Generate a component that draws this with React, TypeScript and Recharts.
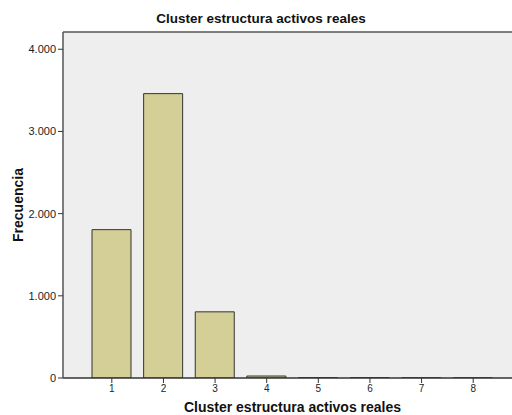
import { BarChart, Bar, XAxis, YAxis, CartesianGrid, ReferenceLine, Label } from 'recharts'

const clusters = ['1', '2', '3', '4', '5', '6', '7', '8']
const frecuencia = [1805, 3460, 805, 24, 4, 3, 2, 2]
const yTicks = [0, 1000, 2000, 3000, 4000]

const data = clusters.map((c, i) => ({ cluster: c, n: frecuencia[i] }))

const fmt = (v: number) => v.toLocaleString('de-DE')

const font = '"Liberation Sans", Arial, sans-serif'

export default function App() {
  return (
    <div style={{ position: 'absolute', left: 0, top: 0, width: 512, height: 415, overflow: 'hidden', background: '#fff' }}>
      <div
        style={{
          position: 'absolute',
          top: 11,
          left: 0,
          width: 522,
          textAlign: 'center',
          fontFamily: font,
          fontWeight: 'bold',
          fontSize: 13.5,
          color: '#111',
        }}
      >
        Cluster estructura activos reales
      </div>
      <BarChart
        width={530}
        height={415}
        data={data}
        margin={{ top: 32, right: 8, bottom: 1, left: 0 }}
        barSize={39}
        style={{ position: 'absolute', left: 0, top: 0 }}
      >
        <CartesianGrid fill="#eeeeee" horizontal={false} vertical={false} />
        <ReferenceLine y={4210} stroke="#555" strokeWidth={1.5} ifOverflow="extendDomain" />
        <XAxis
          dataKey="cluster"
          height={36}
          padding={{ left: 23, right: 23 }}
          axisLine={{ stroke: '#333', strokeWidth: 1.5 }}
          tickLine={{ stroke: '#333' }}
          tickSize={5}
          tick={{ fill: '#222', fontSize: 10, fontFamily: font }}
        >
          <Label
            value="Cluster estructura activos reales"
            position="insideBottom"
            offset={2}
            style={{ fontFamily: font, fontWeight: 'bold', fontSize: 14, fill: '#111' }}
          />
        </XAxis>
        <YAxis
          width={63}
          domain={[0, 4210]}
          ticks={yTicks}
          allowDataOverflow
          tickFormatter={fmt}
          axisLine={{ stroke: '#555', strokeWidth: 1.5 }}
          tickLine={{ stroke: '#333' }}
          tickSize={5}
          tick={{ fill: '#222', fontSize: 11, fontFamily: font }}
        >
          <Label
            value="Frecuencia"
            angle={-90}
            position="insideLeft"
            offset={18}
            style={{ fontFamily: font, fontWeight: 'bold', fontSize: 14, fill: '#111', textAnchor: 'middle' }}
          />
        </YAxis>
        <Bar dataKey="n" fill="#d3cf97" stroke="#333" strokeWidth={1} isAnimationActive={false} />
      </BarChart>
    </div>
  )
}
